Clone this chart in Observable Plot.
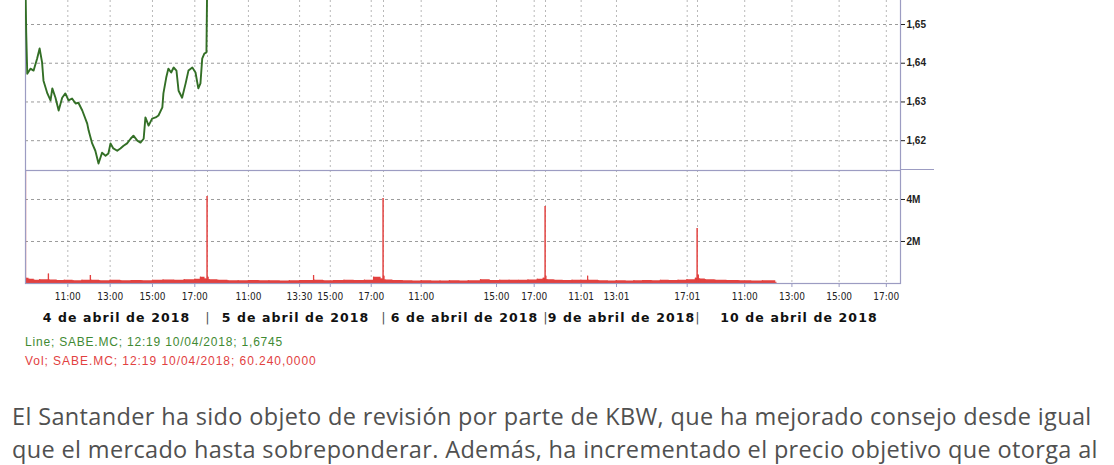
<!DOCTYPE html>
<html>
<head>
<meta charset="utf-8">
<script src="https://cdn.jsdelivr.net/npm/d3@7"></script>
<script src="https://cdn.jsdelivr.net/npm/@observablehq/plot@0.6"></script>
<style>
  html, body { margin: 0; padding: 0; background: #fff; width: 1114px; height: 465px; overflow: hidden; }
  #wrap { position: relative; width: 1114px; height: 465px; }
  #price { position: absolute; left: 0; top: 0; }
  #vol { position: absolute; left: 0; top: 170px; }
  #price svg, #vol svg { overflow: visible; }
  g[aria-label="y-axis tick label"] text { font-weight: bold; font-family: "Liberation Sans", Arial, sans-serif; font-size: 10px; }
  g[aria-label="x-axis tick label"] text { font-family: "Liberation Sans Narrow", "DejaVu Sans Condensed", "Liberation Sans", sans-serif; font-size: 10px; }
  #sepext { position: absolute; left: 900px; top: 169px; width: 34px; height: 0; border-top: 1.2px solid #9c9cc2; }
  .legend { position: absolute; left: 25px; font-family: "Liberation Sans", Arial, sans-serif; font-size: 12px; line-height: 14px; letter-spacing: 0.8px; white-space: nowrap; }
  #l1 { top: 335px; color: #3f8a33; }
  #l2 { top: 354px; color: #e2413f; letter-spacing: 0.95px; }
  #para { position: absolute; left: 12px; top: 400px; font-family: "Open Sans", sans-serif; font-size: 23.5px; line-height: 33px; letter-spacing: 0.35px; color: #505050; white-space: nowrap; }
</style>
</head>
<body>
<div id="wrap">
  <div id="price"></div>
  <div id="vol"></div>
  <div id="sepext"></div>
  <div class="legend" id="l1"></div>
  <div class="legend" id="l2"></div>
  <div id="para"></div>
</div>
<script>
// ---------------- data ----------------
const dayLabels = ["4 de abril de 2018", "5 de abril de 2018", "6 de abril de 2018", "9 de abril de 2018", "10 de abril de 2018"];

// Price (SABE.MC); day index 0 = 4 April 2018
const priceDay = [0,0,0,0,0,0,0,0,0,0, 0,0,0,0,0,0,0,0,0,0, 0,0,0,0,0,0,0,0,0,0, 0,0,0,0,0,0,0,0,0,0, 0,0,0,0,0,0,0,0,0,0, 0,0,0,0,0,0,0,0,0,0, 0,0,0,0, 4];
const priceTime = [
  "09:00","09:02","09:05","09:14","09:23","09:33","09:40","09:47","09:51","10:02",
  "10:11","10:16","10:25","10:34","10:44","10:53","11:02","11:12","11:22","11:30",
  "11:41","11:55","11:59","12:09","12:18","12:27","12:37","12:47","12:55","13:01",
  "13:09","13:20","13:29","13:38","13:48","13:58","14:06","14:17","14:26","14:35",
  "14:40","14:49","14:59","15:09","15:17","15:28","15:31","15:39","15:45","15:53",
  "16:00","16:08","16:14","16:24","16:34","16:42","16:53","17:02","17:10","17:16",
  "17:21","17:27","17:33","17:35",
  "12:19"
];
const priceValue = [
  1.6600,1.6480,1.6373,1.6386,1.6381,1.6412,1.6438,1.6402,1.6355,1.6322,
  1.6304,1.6335,1.6311,1.6278,1.6311,1.6322,1.6304,1.6309,1.6296,1.6298,
  1.6278,1.6244,1.6226,1.6193,1.6174,1.6141,1.6169,1.6161,1.6167,1.6193,
  1.6180,1.6174,1.6180,1.6187,1.6193,1.6205,1.6213,1.6200,1.6195,1.6205,
  1.6260,1.6239,1.6257,1.6260,1.6265,1.6286,1.6322,1.6363,1.6386,1.6376,
  1.6389,1.6381,1.6329,1.6311,1.6348,1.6381,1.6389,1.6376,1.6335,1.6348,
  1.6412,1.6425,1.6428,1.6600,
  1.6745
];

// Volume (millions of shares)
const volDay = [
  0,0,0,0,0,0,0,0,0,0,0,0,0,0,0,0,0,0,0,0,0,0,0,0,0,0,
  1,1,1,1,1,1,1,1,1,1,1,1,1,1,1,1,1,1,1,1,1,
  2,2,2,2,2,2,2,2,2,2,2,2,2,2,2,2,2,2,2,2,
  3,3,3,3,3,3,3,3,3,3,3,3,3,3,3,3,3,3,3,3,3,
  4,4,4,4,4,4,4,4,4
];
const volTime = [
  "09:00","09:01","09:10","09:25","09:40","10:05","10:07","10:30","10:50","11:15","11:40","12:04","12:06","12:30","13:00","13:30","14:00","14:30","15:00","15:30","16:00","16:30","17:00","17:16","17:29","17:35",
  "09:00","09:05","09:30","10:00","10:30","11:00","11:30","12:00","12:30","13:00","13:30","14:11","14:13","14:40","15:10","15:40","16:10","16:40","17:07","17:29","17:35",
  "09:00","09:05","09:30","10:00","10:30","11:00","11:30","12:00","12:30","13:00","13:30","14:09","14:40","15:10","15:40","16:10","16:40","17:10","17:29","17:35",
  "09:00","09:05","09:30","10:00","10:30","11:00","11:23","11:25","12:00","12:30","13:00","13:30","14:00","14:30","15:00","15:30","16:00","16:30","17:00","17:29","17:35",
  "09:00","09:05","09:20","09:45","10:15","10:45","11:15","11:45","12:19"
];
const volValue = [
  6.50,0.25,0.20,0.16,0.18,0.45,0.17,0.14,0.16,0.13,0.15,0.38,0.15,0.13,0.15,0.13,0.14,0.13,0.15,0.17,0.16,0.18,0.20,0.30,0.22,4.14,
  0.30,0.18,0.15,0.13,0.13,0.14,0.13,0.13,0.12,0.13,0.14,0.38,0.15,0.13,0.14,0.15,0.14,0.16,0.30,0.22,4.05,
  0.35,0.17,0.14,0.13,0.12,0.13,0.12,0.12,0.13,0.12,0.13,0.18,0.14,0.15,0.16,0.15,0.17,0.20,0.25,3.67,
  0.35,0.18,0.15,0.14,0.16,0.15,0.35,0.15,0.13,0.12,0.13,0.12,0.13,0.14,0.13,0.15,0.14,0.16,0.18,0.25,2.62,
  0.40,0.22,0.18,0.15,0.14,0.13,0.12,0.13,0.06
];

// X-axis tick labels (day index + clock time)
const tickDay = [0,0,0,0, 1,1,1,1, 2,2,2, 3,3,3, 4,4,4,4];
const tickLabel = ["11:00","13:00","15:00","17:00","11:00","13:30","15:00","17:00","11:00","15:00","17:00","11:01","13:01","17:01","11:00","13:00","15:00","17:00"];
const priceTicks = [1.62, 1.63, 1.64, 1.65];
const volTicks = [2, 4];

const legendLine = "Line; SABE.MC; 12:19 10/04/2018; 1,6745";
const legendVol = "Vol; SABE.MC; 12:19 10/04/2018; 60.240,0000";
const paragraph = [
  "El Santander ha sido objeto de revisión por parte de KBW, que ha mejorado consejo desde igual",
  "que el mercado hasta sobreponderar. Además, ha incrementado el precio objetivo que otorga al"
];

// ---------------- build ----------------
const DAY = 8.6; // trading session length in hours (09:00 - 17:36)
const toU = (d, t) => { const [h, m] = t.split(":").map(Number); return d * DAY + (h - 9) + m / 60; };

const price = priceTime.map((t, i) => ({u: toU(priceDay[i], t), p: priceValue[i]}));
const vol = volTime.map((t, i) => ({u: toU(volDay[i], t), v: volValue[i]}));
const ticks = tickLabel.map((t, i) => ({u: toU(tickDay[i], t), label: t}));
const tickU = ticks.map(d => d.u);
const labelOf = new Map(ticks.map(d => [d.u, d.label]));
const dayEdges = d3.range(dayLabels.length + 1).map(d => d * DAY);
const days = dayLabels.map((label, i) => ({mid: (i + 0.5) * DAY, label}));
const gridU = tickU.concat(dayEdges.slice(1, -1));

const xScale = {type: "linear", domain: dayEdges, range: [25, 207, 383, 545, 697, 900], axis: null};
const frameColor = "#9c9cc2";
const red = "#e2413f";
const gridStyle = {stroke: "#7a7a7a", strokeOpacity: 0.75, strokeDasharray: "3,3"};
const vgridStyle = {stroke: "#8a8a8a", strokeOpacity: 0.6, strokeDasharray: "2,3"};
const common = {width: 1114, marginLeft: 25, marginRight: 214, style: {color: "#222", background: "transparent", fontFamily: "Liberation Sans, Arial, sans-serif", fontSize: "10px"}};

const pricePlot = Plot.plot({
  ...common,
  height: 170, marginTop: 0, marginBottom: 0,
  x: xScale,
  y: {domain: [1.6123, 1.6562]},
  marks: [
    Plot.gridY({ticks: priceTicks, ...gridStyle}),
    Plot.gridX({ticks: gridU, ...vgridStyle}),
    Plot.ruleX([dayEdges[0], dayEdges[dayEdges.length - 1]], {stroke: frameColor, strokeWidth: 1.2}),
    Plot.line(price, {x: "u", y: "p", stroke: "#336f26", strokeWidth: 1.9, clip: true}),
    Plot.axisY({anchor: "right", ticks: priceTicks, tickFormat: d => d.toFixed(2).replace(".", ","), tickSize: 4, tickPadding: 2, label: null})
  ]
});
document.getElementById("price").appendChild(pricePlot);

const volPlot = Plot.plot({
  ...common,
  height: 160, marginTop: 0, marginBottom: 47,
  x: {...xScale, axis: undefined},
  y: {domain: [0, 5.38]},
  marks: [
    Plot.gridY({ticks: volTicks, ...gridStyle}),
    Plot.gridX({ticks: gridU, ...vgridStyle}),
    Plot.areaY(vol, {x: "u", y: "v", fill: red, curve: "step-after", clip: true}),
    Plot.ruleX(vol, {x: "u", y1: 0, y2: "v", stroke: red, strokeWidth: 1.3, clip: true}),
    Plot.frame({stroke: frameColor, strokeWidth: 1.2}),
    Plot.axisY({anchor: "right", ticks: volTicks, tickFormat: d => d + "M", tickSize: 4, tickPadding: 2, label: null}),
    Plot.axisX({ticks: tickU, tickFormat: u => labelOf.get(u), tickSize: 4, tickPadding: 5, label: null, stroke: frameColor}),
    Plot.text(days, {x: "mid", text: "label", frameAnchor: "bottom", dy: 38, fill: "#111",
      fontFamily: "DejaVu Sans, Verdana, sans-serif", fontWeight: "bold", fontSize: 12.5}),
    Plot.text(dayEdges.slice(1, -1), {x: d => d, text: () => "|", frameAnchor: "bottom", dy: 38, fill: "#555",
      fontFamily: "DejaVu Sans, sans-serif", fontSize: 13})
  ]
});
d3.select(volPlot).selectAll("text").filter(function () { return this.textContent.includes("abril"); })
  .style("letter-spacing", "1.1px");
document.getElementById("vol").appendChild(volPlot);

document.getElementById("l1").textContent = legendLine;
document.getElementById("l2").textContent = legendVol;
document.getElementById("para").innerHTML = paragraph.map(s => `<div>${s}</div>`).join("");
</script>
</body>
</html>
